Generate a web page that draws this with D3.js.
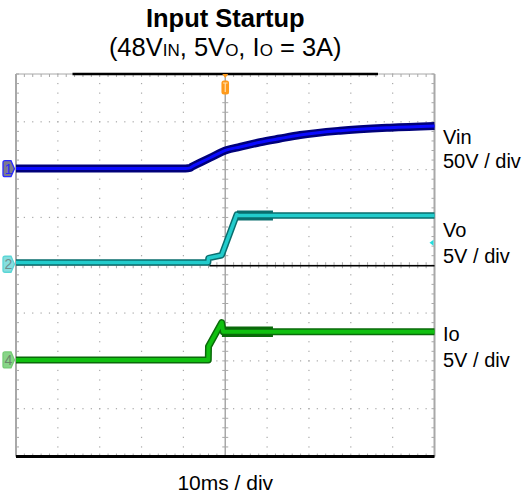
<!DOCTYPE html>
<html><head><meta charset="utf-8">
<script src="https://cdn.jsdelivr.net/npm/d3@7"></script>
<style>
html,body{margin:0;padding:0;background:#fff;}
svg{display:block;font-family:"Liberation Sans",Arial,sans-serif;}
</style></head>
<body><svg id="c" width="531" height="493"></svg>
<script>
// ---- data ----
const title = "Input Startup";
const subtitleParts = [["(48V",0],["IN",1],[", 5V",0],["O",1],[", I",0],["O",1],[" = 3A)",0]];
const xLabel = "10ms / div";
const timeDomain = [-50, 50];        // ms (10 ms/div)
const divDomain = [-4, 4];           // vertical divisions

const vinT = [-50, -9.5, -8.4, -7.95, -6.0, -3.6, 0.4, 3.5, 8.3, 13.1, 17.9, 27.4, 39.4, 50];
const vinV = [1.2, 1.2, 1.8, 3.1, 7.3, 12.4, 20.6, 23.7, 28.6, 32.5, 36.2, 40.7, 43.9, 45.7];
const voT  = [-50, -4.1, -4.0, -0.85, 2.75, 3.2, 50];
const voV  = [0.3, 0.3, 0.75, 1.05, 5.3, 5.2, 5.2];
const ioT  = [-50, -4.05, -4.0, -0.85, -0.5, 50];
const ioV  = [0.1, 0.1, 1.5, 4.0, 3.05, 3.05];

const channelNames = ["Vin", "Vo", "Io"];
const channelScales = ["50V / div", "5V / div", "5V / div"];
const channelVoltsPerDiv = [50, 5, 5];
const channelOffsetDiv = [2, 0, -2];
const channelMarkers = ["1", "2", "4"];
const noiseWindows = [null, [2.8, 11.4], [-0.8, 11.4]];
const triggerLevelVo = 2.36;
const recordBar = [-36.5, 36.5];
const refTraceT = [-3.8, 50];

// ---- layout ----
const svg = d3.select("#c");
const L = 16, R = 434.5, T = 74, B = 456.5;
const x = d3.scaleLinear().domain(timeDomain).range([L, R]);
const y = d3.scaleLinear().domain(divDomain).range([B, T]);
const gridCol = "#a8a8a8";

const g = svg.append("g");
// grid dots
const majorT = d3.range(-40, 41, 10).filter(d => d !== 0);
const majorD = d3.range(-3, 4, 1).filter(d => d !== 0);
const minorT = d3.range(-50, 50.01, 2);
const minorD = d3.range(-4, 4.01, 0.2);
majorT.forEach(t => minorD.forEach(d => {
  g.append("rect").attr("x", x(t) - 0.6).attr("y", y(d) - 0.6).attr("width", 1.2).attr("height", 1.2).attr("fill", gridCol);
}));
majorD.forEach(d => minorT.forEach(t => {
  g.append("rect").attr("x", x(t) - 0.6).attr("y", y(d) - 0.6).attr("width", 1.2).attr("height", 1.2).attr("fill", gridCol);
}));
// center axes
g.append("line").attr("x1", x(0)).attr("x2", x(0)).attr("y1", T).attr("y2", B).attr("stroke", gridCol).attr("stroke-width", 1.5);
g.append("line").attr("x1", L).attr("x2", R).attr("y1", y(0)).attr("y2", y(0)).attr("stroke", gridCol).attr("stroke-width", 1);
minorD.forEach(d => {
  g.append("line").attr("x1", x(0) - 3).attr("x2", x(0) + 3).attr("y1", y(d)).attr("y2", y(d)).attr("stroke", gridCol).attr("stroke-width", 1);
  g.append("line").attr("x1", L).attr("x2", L + 3).attr("y1", y(d)).attr("y2", y(d)).attr("stroke", gridCol).attr("stroke-width", 1);
  g.append("line").attr("x1", R - 3).attr("x2", R).attr("y1", y(d)).attr("y2", y(d)).attr("stroke", gridCol).attr("stroke-width", 1);
});
minorT.forEach(t => {
  g.append("line").attr("x1", x(t)).attr("x2", x(t)).attr("y1", y(0) - 3).attr("y2", y(0) + 3).attr("stroke", gridCol).attr("stroke-width", 1);
  g.append("line").attr("x1", x(t)).attr("x2", x(t)).attr("y1", T).attr("y2", T + 3).attr("stroke", gridCol).attr("stroke-width", 1);
  g.append("line").attr("x1", x(t)).attr("x2", x(t)).attr("y1", B - 3).attr("y2", B).attr("stroke", gridCol).attr("stroke-width", 1);
});
// borders
g.append("line").attr("x1", L).attr("x2", L).attr("y1", T).attr("y2", B).attr("stroke", gridCol).attr("stroke-width", 2);
g.append("line").attr("x1", R).attr("x2", R).attr("y1", T).attr("y2", B).attr("stroke", gridCol).attr("stroke-width", 2);
g.append("line").attr("x1", L).attr("x2", R).attr("y1", T).attr("y2", T).attr("stroke", gridCol).attr("stroke-width", 1);
g.append("line").attr("x1", x(recordBar[0])).attr("x2", x(recordBar[1])).attr("y1", T).attr("y2", T).attr("stroke", "#000").attr("stroke-width", 2.5);
g.append("line").attr("x1", L).attr("x2", R).attr("y1", B).attr("y2", B).attr("stroke", "#000").attr("stroke-width", 3);

// reference (black) trace at center
g.append("line").attr("x1", x(refTraceT[0])).attr("x2", x(refTraceT[1])).attr("y1", y(0) + 0.5).attr("y2", y(0) + 0.5).attr("stroke", "#000").attr("stroke-width", 1.3);

// traces
const traces = [
  {t: vinT, v: vinV, outer: "#00007a", inner: "#0a0aff", ow: 8, iw: 3, curve: d3.curveMonotoneX},
  {t: voT, v: voV, outer: "#0a6e6e", inner: "#22cccc", ow: 6.5, iw: 3.5, curve: d3.curveLinear},
  {t: ioT, v: ioV, outer: "#0a6a0a", inner: "#10c010", ow: 7, iw: 4, curve: d3.curveLinear}
];
traces.forEach((tr, i) => {
  const pts = tr.t.map((t, k) => [t, tr.v[k] / channelVoltsPerDiv[i] + channelOffsetDiv[i]]);
  const line = d3.line().x(d => x(d[0])).y(d => y(d[1])).curve(tr.curve);
  if (noiseWindows[i]) {
    const w = noiseWindows[i];
    const yv = pts[pts.length - 1][1];
    const seg = [[w[0], yv], [w[1], yv]];
    g.append("path").attr("d", line(seg)).attr("fill", "none").attr("stroke", tr.outer).attr("stroke-width", tr.ow + 3.5);
  }
  g.append("path").attr("d", line(pts)).attr("fill", "none").attr("stroke", tr.outer).attr("stroke-width", tr.ow).attr("stroke-linejoin", "round");
  g.append("path").attr("d", line(pts)).attr("fill", "none").attr("stroke", tr.inner).attr("stroke-width", tr.iw).attr("stroke-linejoin", "round");
});

// channel ground markers
const markerStyles = [
  {fill: "#7c7c8a", stroke: "#2a2aff", text: "#2a2aff"},
  {fill: "#86dede", stroke: "#5ad6d6", text: "#6f8f8f"},
  {fill: "#88d488", stroke: "#74cc74", text: "#6a8a6a"}
];
channelMarkers.forEach((m, i) => {
  const cy = y(channelOffsetDiv[i]) - 1;
  const s = markerStyles[i];
  const pth = `M${L - 11},${cy - 8} L${L - 5},${cy - 8} L${L - 1.5},${cy} L${L - 5},${cy + 8} L${L - 11},${cy + 8} Q${L - 13},${cy + 8} ${L - 13},${cy + 6} L${L - 13},${cy - 6} Q${L - 13},${cy - 8} ${L - 11},${cy - 8} Z`;
  g.append("path").attr("d", pth).attr("fill", s.fill).attr("stroke", s.stroke).attr("stroke-width", 1.3);
  g.append("text").attr("x", L - 7.5).attr("y", cy + 5).attr("text-anchor", "middle").attr("font-size", 14).attr("fill", s.text).text(m);
});

// trigger position marker (top)
const tx = x(0);
g.append("path").attr("d", `M${tx - 3},${T} L${tx + 3},${T} L${tx},${T + 4} Z`).attr("fill", "#ff9a1a");
g.append("rect").attr("x", tx - 3.8).attr("y", T + 6.5).attr("width", 7.6).attr("height", 14).attr("rx", 2.5).attr("fill", "#ff9a1a");
g.append("path").attr("d", `M${tx - 2.3},${T + 9} L${tx + 2.3},${T + 9} M${tx},${T + 9} L${tx},${T + 18}`).attr("stroke", "#ffe0b0").attr("stroke-width", 1.2).attr("fill", "none");
// trigger level marker (right)
const tly = y(triggerLevelVo / channelVoltsPerDiv[1] + channelOffsetDiv[1]);
g.append("path").attr("d", `M${R - 5},${tly} L${R - 1},${tly - 3} L${R - 1},${tly + 3} Z`).attr("fill", "#22dddd");

// labels
const labelBase = [[144, 168.3], [237.3, 263.3], [340.7, 366.7]];
channelNames.forEach((n, i) => {
  svg.append("text").attr("x", 443).attr("y", labelBase[i][0]).attr("font-size", 20).attr("fill", "#000").text(n);
  svg.append("text").attr("x", 443).attr("y", labelBase[i][1]).attr("font-size", 20).attr("fill", "#000").text(channelScales[i]);
});
svg.append("text").attr("x", x(0)).attr("y", 490).attr("text-anchor", "middle").attr("font-size", 21).text(xLabel);
svg.append("text").attr("x", x(0)).attr("y", 27).attr("text-anchor", "middle").attr("font-size", 25.5).attr("font-weight", "bold").text(title);
const sub = svg.append("text").attr("x", x(0)).attr("y", 56).attr("text-anchor", "middle").attr("font-size", 25.5);
subtitleParts.forEach(p => sub.append("tspan").attr("font-size", p[1] ? 17 : 25.5).text(p[0]));
</script></body></html>
